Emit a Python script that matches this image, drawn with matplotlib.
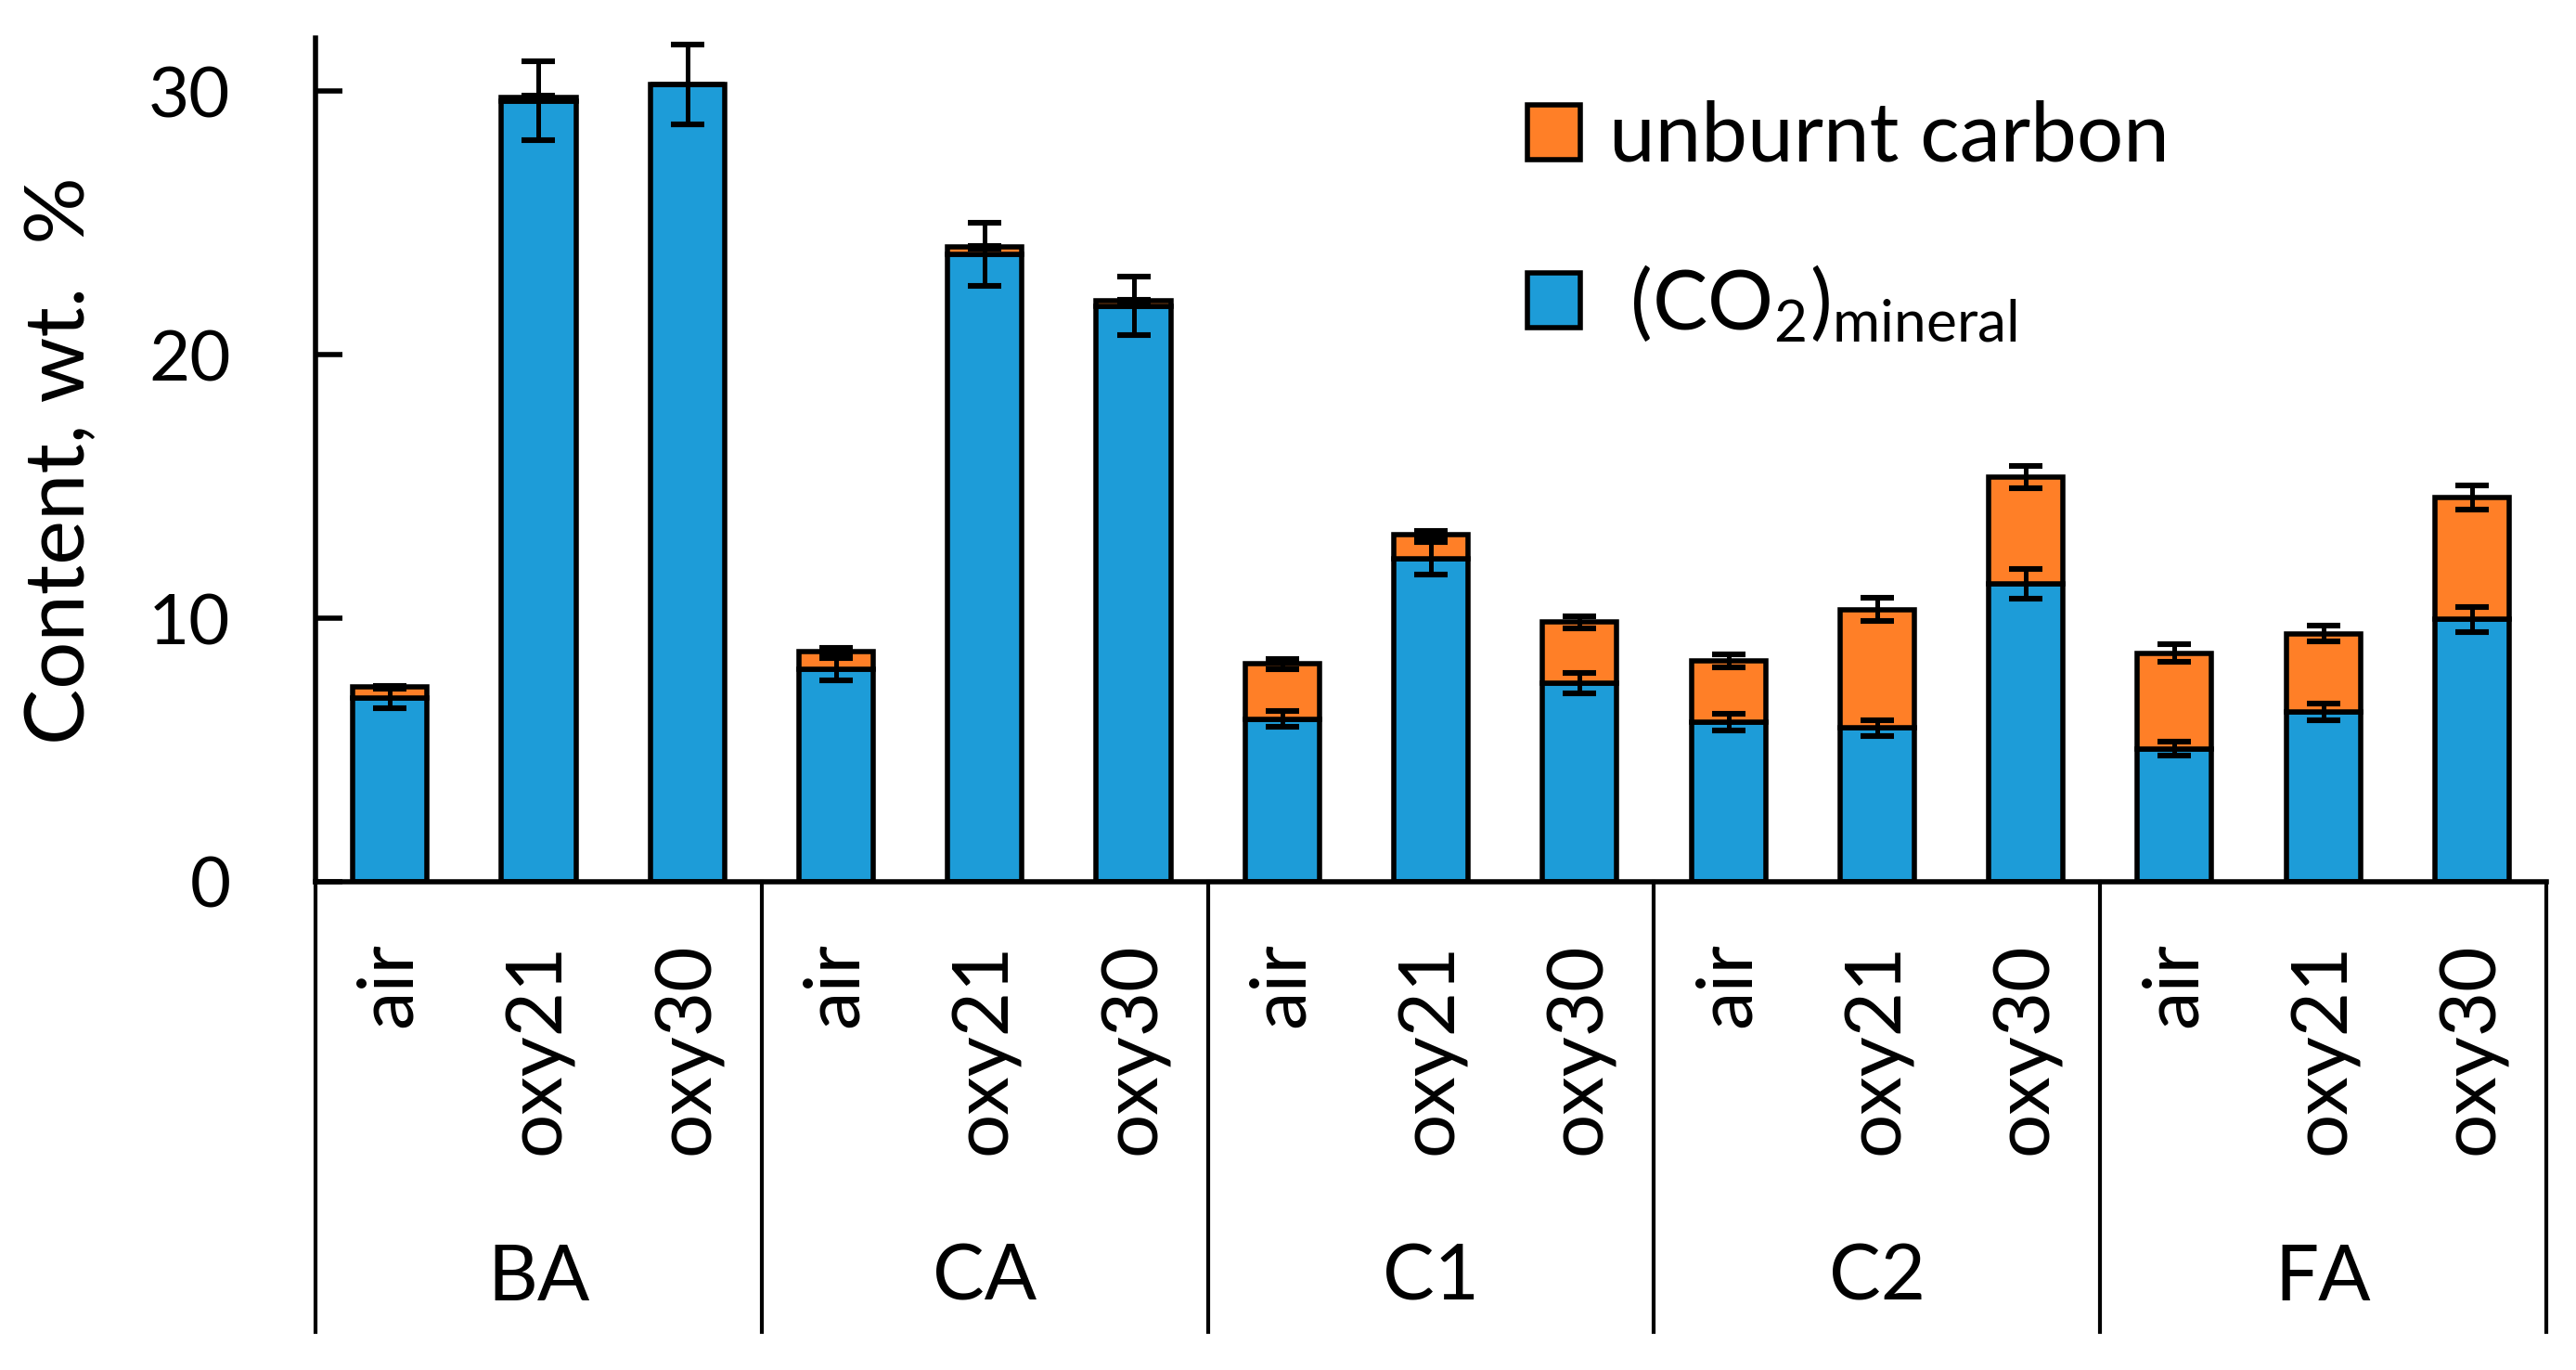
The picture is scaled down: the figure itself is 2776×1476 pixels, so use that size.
import numpy as np
import matplotlib.pyplot as plt
from matplotlib.patches import Patch

plt.rcParams['font.family'] = ['Lato', 'DejaVu Sans']
plt.rcParams['mathtext.default'] = 'regular'

groups = ['BA', 'CA', 'C1', 'C2', 'FA']
conds = ['air', 'oxy21', 'oxy30']

# (CO2)mineral and unburnt carbon, wt. %, order: group x condition
mineral = [6.98, 29.63, 30.25, 8.06, 23.80, 21.85, 6.18, 12.27, 7.54,
           6.05, 5.83, 11.31, 5.05, 6.45, 9.95]
unburnt = [0.41, 0.15, 0.0, 0.67, 0.28, 0.19, 2.08, 0.89, 2.31,
           2.32, 4.49, 4.05, 3.63, 2.97, 4.63]
err_mineral = [0.39, 1.49, 1.51, 0.41, 1.19, 1.10, 0.31, 0.63, 0.38,
               0.31, 0.31, 0.56, 0.25, 0.32, 0.49]
err_unburnt = [0.05, 0.05, np.nan, 0.15, 0.05, 0.05, 0.20, 0.15, 0.22,
               0.25, 0.44, 0.41, 0.35, 0.31, 0.47]

blue = '#1D9CD8'
orange = '#FF7F27'

mineral = np.array(mineral)
unburnt = np.array(unburnt)
total = mineral + unburnt
x = np.arange(len(mineral))

fig = plt.figure(figsize=(13.88, 7.38), dpi=200)
ax = fig.add_axes([0.1225, 0.3564, 0.866, 0.6155])

ax.bar(x, mineral, width=0.5, color=blue, edgecolor='black', linewidth=2, zorder=2)
ax.bar(x, unburnt, width=0.5, bottom=mineral, color=orange, edgecolor='black',
       linewidth=2, zorder=2)
ax.errorbar(x, mineral, yerr=err_mineral, fmt='none', ecolor='black',
            elinewidth=1.8, capsize=6.5, capthick=2.2, zorder=3)
ax.errorbar(x, total, yerr=err_unburnt, fmt='none', ecolor='black',
            elinewidth=1.8, capsize=6.5, capthick=2.2, zorder=3)

ax.set_xlim(-0.5, len(x) - 0.5)
ax.set_ylim(0, 32)
ax.set_yticks([0, 10, 20, 30])
ax.set_xticks([])
ax.spines['top'].set_visible(False)
ax.spines['right'].set_visible(False)
ax.spines['left'].set_linewidth(2)
ax.spines['bottom'].set_linewidth(2)
ax.tick_params(axis='y', direction='in', length=10.5, width=2, labelsize=27.5, pad=33)

ax.set_ylabel('Content, wt.  %', fontsize=32.5)
ax.yaxis.set_label_coords(-0.097, 0.5)

# two-level category axis
tr = ax.get_xaxis_transform()
for k in range(len(groups) + 1):
    xs = k * len(conds) - 0.5
    ax.plot([xs, xs], [0, -0.534], color='black', linewidth=1.5,
            transform=tr, clip_on=False)
for i in x:
    ax.text(i, -0.072, conds[i % len(conds)], transform=tr, rotation=90,
            ha='center', va='top', fontsize=30)
for k, g in enumerate(groups):
    ax.text(k * len(conds) + 1, -0.471, g, transform=tr, ha='center',
            va='center', fontsize=30)

handles = [Patch(facecolor=orange, edgecolor='black', linewidth=2),
           Patch(facecolor=blue, edgecolor='black', linewidth=2)]
labels = ['unburnt carbon', r' (CO$_2$)$_{mineral}$']
ax.legend(handles, labels, loc='upper left', bbox_to_anchor=(0.593, 0.927),
          bbox_transform=fig.transFigure, frameon=False, fontsize=32,
          handlelength=0.64, handleheight=0.64, handletextpad=0.35,
          labelspacing=1.05, borderpad=0, borderaxespad=0)

fig.savefig('out.png', dpi=200)
